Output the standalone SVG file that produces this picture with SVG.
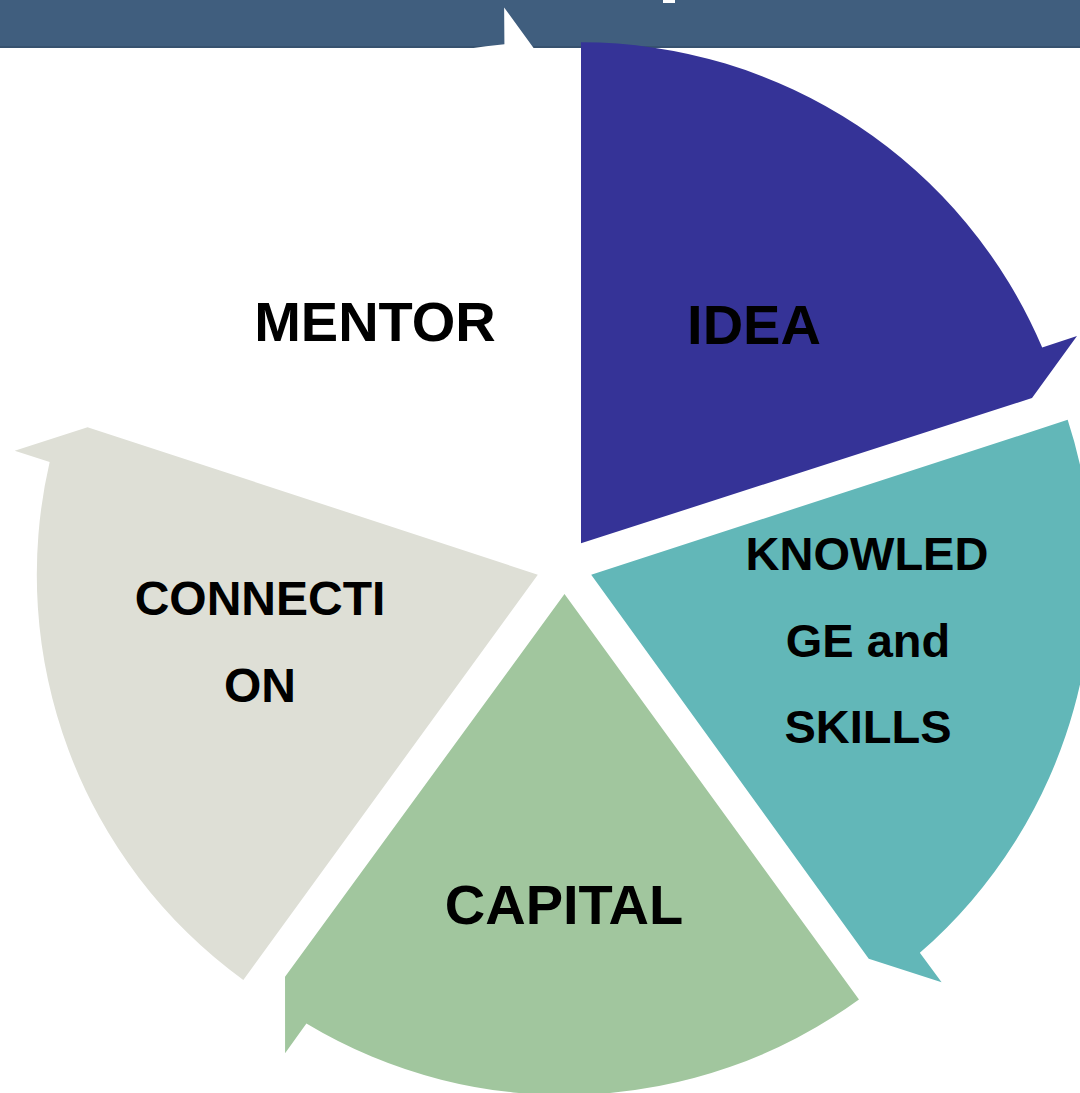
<svg xmlns="http://www.w3.org/2000/svg" xmlns:xlink="http://www.w3.org/1999/xlink" width="1080" height="1093" viewBox="0 0 1080 1093">
  <style>
    .lbl { font-family: "Liberation Sans", Arial, sans-serif; font-weight: bold; fill: #000; text-anchor: middle; }
    .big { font-size: 56px; }
    .mid { font-size: 47px; }
    .mid2 { font-size: 48px; }
  </style>
  <defs>
    <path id="seg" d="M581,543.3 L581,42.3 A501,501 0 0 1 1042.2,347.6 L1077,336 L1032,398 Z"/>
  </defs>
  <rect x="0" y="0" width="1080" height="48" fill="#405e7e"/>
  <rect x="0" y="46" width="1080" height="2" fill="#37526f"/>
  <rect x="663" y="0" width="12" height="3" fill="#ffffff"/>

  <g id="node-idea">
    <use xlink:href="#seg" href="#seg" fill="#353397"/>
    <text class="lbl big" x="754" y="344">IDEA</text>
  </g>
  <g id="node-knowledge">
    <use xlink:href="#seg" href="#seg" fill="#62b7b8" transform="rotate(72 564.5 566)"/>
    <text class="lbl mid" x="867" y="570">KNOWLED</text>
    <text class="lbl mid" x="868" y="657">GE and</text>
    <text class="lbl mid" x="868" y="743">SKILLS</text>
  </g>
  <g id="node-capital">
    <use xlink:href="#seg" href="#seg" fill="#a1c69e" transform="rotate(144 564.5 566)"/>
    <text class="lbl big" x="564" y="924">CAPITAL</text>
  </g>
  <g id="node-connection">
    <use xlink:href="#seg" href="#seg" fill="#dedfd6" transform="rotate(216 564.5 566)"/>
    <text class="lbl mid2" x="260" y="615">CONNECTI</text>
    <text class="lbl mid2" x="260" y="702">ON</text>
  </g>
  <g id="node-mentor">
    <use xlink:href="#seg" href="#seg" fill="#ffffff" transform="rotate(288 564.5 566)"/>
    <text class="lbl big" x="375" y="341">MENTOR</text>
  </g>
  <g id="connectors"/>
</svg>
